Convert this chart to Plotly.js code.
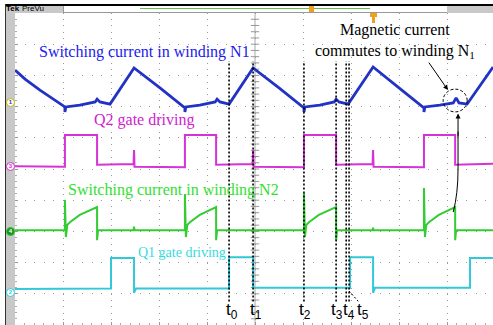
<!DOCTYPE html>
<html>
<head>
<meta charset="utf-8">
<script src="https://cdn.plot.ly/plotly-3.0.1.min.js"></script>
<style>
  html, body { margin:0; padding:0; background:#fff; }
  #wrap { position:relative; width:493px; height:325px; overflow:hidden; background:#fff; }
  #plot { position:absolute; left:0; top:0; width:493px; height:325px; }
  .ov { position:absolute; }
  .chm { position:absolute; width:7px; height:7px; border-radius:50%; font:bold 6px "Liberation Sans", sans-serif; line-height:7px; text-align:center; }
</style>
</head>
<body>
<div id="wrap">
  <div id="plot"></div>
  <!-- scope frame -->
  <div class="ov" style="left:5px;top:4px;width:488px;height:2px;background:#000;"></div>
  <div class="ov" style="left:5px;top:4px;width:1px;height:321px;background:#333;"></div>
  <div class="ov" style="left:6px;top:6px;width:9px;height:319px;background:#c8c8c8;"></div>
  <div class="ov" style="left:6px;top:6px;width:57px;height:7px;background:#c8c8c8;"></div>
  <div class="ov" style="left:63px;top:6px;width:383px;height:6px;background:#fff;border:1px solid #999;border-top:none;"></div>
  <div class="ov" style="left:447px;top:6px;width:46px;height:7px;background:#c8c8c8;"></div>
  <div class="ov" style="left:140px;top:8px;width:230px;height:1px;background:#66bb55;"></div>
  <div class="ov" style="left:6px;top:5px;font:bold 8px 'Liberation Sans',sans-serif;color:#000;line-height:8px;">Tek</div>
  <div class="ov" style="left:22px;top:5px;font:8px 'Liberation Sans',sans-serif;color:#000;line-height:8px;">PreVu</div>
  <div class="ov" style="left:309px;top:6px;width:5px;height:6px;background:#f0a020;"></div>
  <div class="ov" style="left:370px;top:13px;width:7px;height:4px;background:#f0a020;"></div>
  <div class="ov" style="left:372px;top:17px;width:3px;height:6px;background:#f0a020;"></div>
  <!-- channel markers -->
  <div class="chm" style="left:6px;top:98px;background:#fff;border:1px solid #c8b400;color:#2233cc;">1</div>
  <div class="chm" style="left:6px;top:162px;background:#fff;border:1px solid #d030d0;color:#d030d0;">3</div>
  <div class="chm" style="left:6px;top:227px;background:#1f8f1f;border:1px solid #2c2;color:#fff;">4</div>
  <div class="chm" style="left:6px;top:288px;background:#fff;border:1px solid #33ccdd;color:#33ccdd;">2</div>
</div>
<script>
// Time in screen divisions, amplitude in screen divisions (0 = bottom graticule line)
const blueT = [0, 0.21, 0.52, 0.83, 1.04, 1.04, 1.06, 1.35, 1.67, 1.71, 1.77, 1.98, 2.48, 3.02, 3.54, 3.54, 3.56, 3.85, 4.17, 4.21, 4.27, 4.46, 4.96, 5.50, 6.02, 6.02, 6.04, 6.35, 6.65, 6.69, 6.75, 6.94, 7.46, 8.00, 8.52, 8.52, 8.54, 8.85, 9.13, 9.19, 9.25, 9.42, 9.96];
const blueV = [8.17, 7.88, 7.53, 7.21, 6.99, 6.83, 6.99, 7.05, 7.15, 7.24, 7.15, 7.08, 8.24, 7.60, 6.96, 6.83, 6.99, 7.05, 7.15, 7.24, 7.15, 7.08, 8.24, 7.60, 6.96, 6.83, 6.99, 7.05, 7.15, 7.24, 7.15, 7.08, 8.27, 7.60, 6.96, 6.83, 6.99, 7.05, 7.12, 7.28, 7.12, 7.08, 8.27];

const q2T = [0, 1.04, 1.04, 1.71, 1.71, 2.47, 2.48, 2.49, 3.54, 3.54, 4.19, 4.19, 4.95, 4.96, 4.97, 6.02, 6.02, 6.69, 6.69, 7.45, 7.46, 7.47, 8.52, 8.52, 9.17, 9.17, 9.96];
const q2V = [5.09, 5.07, 6.09, 6.09, 5.14, 5.16, 5.61, 5.07, 5.06, 6.09, 6.09, 5.14, 5.16, 5.61, 5.07, 5.06, 6.09, 6.09, 5.14, 5.16, 5.61, 5.07, 5.06, 6.09, 6.09, 5.14, 5.17];

const n2T = [0, 1.04, 1.04, 1.06, 1.09, 1.15, 1.35, 1.71, 1.71, 1.73, 2.47, 2.48, 2.49, 3.54, 3.54, 3.56, 3.59, 3.65, 3.85, 4.19, 4.19, 4.21, 4.95, 4.96, 4.97, 6.02, 6.02, 6.04, 6.07, 6.13, 6.33, 6.69, 6.69, 6.71, 7.45, 7.46, 7.47, 8.52, 8.52, 8.54, 8.57, 8.63, 8.83, 9.17, 9.17, 9.19, 9.96];
const n2V = [3.04, 3.04, 4.01, 2.82, 3.21, 3.30, 3.53, 3.78, 2.72, 3.04, 3.04, 3.15, 3.04, 3.04, 4.20, 2.82, 3.21, 3.30, 3.53, 3.78, 2.72, 3.04, 3.04, 3.12, 3.04, 3.04, 4.23, 2.82, 3.21, 3.30, 3.53, 3.78, 2.72, 3.04, 3.04, 3.12, 3.04, 3.04, 4.39, 2.82, 3.21, 3.30, 3.53, 3.78, 2.72, 3.04, 3.04];

const q1T = [0, 2.00, 2.00, 2.48, 2.48, 2.52, 4.46, 4.46, 4.96, 4.96, 6.98, 6.98, 7.46, 7.46, 7.50, 9.48, 9.48, 9.96];
const q1V = [1.15, 1.17, 2.15, 2.15, 1.03, 1.17, 1.17, 2.17, 2.17, 1.19, 1.19, 2.17, 2.17, 1.03, 1.19, 1.19, 2.15, 2.15];

const tMarks = [4.46, 4.96, 6.02, 6.69, 6.90, 6.96];
const tLabels = ['t<sub>0</sub>', 't<sub>1</sub>', 't<sub>2</sub>', 't<sub>3</sub>', 't<sub>4</sub>', 't<sub>5</sub>'];
const tLabelX = [4.52, 5.02, 6.04, 6.71, 6.95, 7.25];

const colBlue = '#2233c4', colMag = '#d633d6', colGreen = '#33cc33', colCyan = '#33c8d8';

const traces = [
  {x: blueT, y: blueV, mode: 'lines', line: {color: colBlue, width: 2.8}},
  {x: q2T, y: q2V, mode: 'lines', line: {color: colMag, width: 2}},
  {x: n2T, y: n2V, mode: 'lines', line: {color: colGreen, width: 2}},
  {x: q1T, y: q1V, mode: 'lines', line: {color: colCyan, width: 2}}
];

// center graticule ticks (decoration)
const cx = [], cy = [];
for (let i = 1; i < 50; i++) { cx.push(5); cy.push(i * 0.2); }
traces.unshift({x: cx, y: cy, mode: 'markers', marker: {symbol: 'line-ew', size: 6, line: {color: '#999', width: 1}}, hoverinfo: 'skip'});

const shapes = [
  {type: 'line', xref: 'x', yref: 'y', x0: 5, x1: 5, y0: 0, y1: 10, line: {color: '#aaa', width: 1}, layer: 'below'}
];
tMarks.forEach(t => shapes.push({type: 'line', xref: 'x', yref: 'y', x0: t, x1: t, y0: 0.75, y1: 8.45, line: {color: '#000', width: 1.6, dash: '2px,2px'}}));
shapes.push({type: 'line', xref: 'x', yref: 'y', x0: 6.96, x1: 7.15, y0: 1.09, y1: 0.76, line: {color: '#000', width: 1, dash: '2px,2px'}});
shapes.push({type: 'circle', xref: 'x', yref: 'y', x0: 8.92, x1: 9.42, y0: 6.83, y1: 7.56, line: {color: '#000', width: 1, dash: '3px,2px'}});
shapes.push({type: 'path', xref: 'x', yref: 'y', path: 'M 9.13,3.62 Q 9.23,4.2 9.23,5.0 L 9.23,6.2', line: {color: '#000', width: 1}});

const serif = 'Liberation Serif, Times New Roman, serif';
const annotations = [
  {x: 2.69, y: 8.75, xref: 'x', yref: 'y', text: 'Switching current in winding N1', showarrow: false, font: {family: serif, size: 16, color: '#1a1aee'}},
  {x: 7.92, y: 9.10, xref: 'x', yref: 'y', text: 'Magnetic current<br>commutes to winding N<sub>1</sub>', showarrow: false, align: 'center', font: {family: serif, size: 16, color: '#000'}},
  {x: 2.68, y: 6.57, xref: 'x', yref: 'y', text: 'Q2 gate driving', showarrow: false, font: {family: serif, size: 16, color: '#d020d0'}},
  {x: 3.31, y: 4.33, xref: 'x', yref: 'y', text: 'Switching current in winding N2', showarrow: false, font: {family: serif, size: 16, color: '#33e033'}},
  {x: 3.48, y: 2.31, xref: 'x', yref: 'y', text: 'Q1 gate driving', showarrow: false, font: {family: serif, size: 14, color: '#33dddd'}},
  {x: 9.02, y: 7.53, ax: 8.60, ay: 8.46, xref: 'x', yref: 'y', axref: 'x', ayref: 'y', text: '', showarrow: true, arrowhead: 2, arrowsize: 1, arrowwidth: 1, arrowcolor: '#000', standoff: 0},
  {x: 9.23, y: 6.78, ax: 9.23, ay: 6.0, xref: 'x', yref: 'y', axref: 'x', ayref: 'y', text: '', showarrow: true, arrowhead: 2, arrowsize: 1, arrowwidth: 1, arrowcolor: '#000', standoff: 0}
];
tLabels.forEach((lab, i) => annotations.push({x: tLabelX[i], y: 0.45, xref: 'x', yref: 'y', text: lab, showarrow: false, font: {family: 'Liberation Sans, Arial, sans-serif', size: 17, color: '#000'}}));

const layout = {
  width: 493, height: 325,
  margin: {l: 15, r: 0, t: 13, b: 0, pad: 0},
  paper_bgcolor: 'rgba(0,0,0,0)', plot_bgcolor: '#fff',
  showlegend: false,
  xaxis: {range: [0, 478 / 48], tick0: 0, dtick: 1, showgrid: true, gridcolor: '#9a9a9a', gridwidth: 1, griddash: '1px,5.24px',
          zeroline: false, showticklabels: false, showline: true, linecolor: '#777', mirror: true,
          ticks: 'inside', ticklen: 3, tickcolor: '#999', minor: {dtick: 0.2, ticks: 'inside', ticklen: 2, tickcolor: '#aaa'}},
  yaxis: {range: [0, 10], tick0: 0, dtick: 1, showgrid: true, gridcolor: '#9a9a9a', gridwidth: 1, griddash: '1px,8.6px',
          zeroline: false, showticklabels: false, showline: true, linecolor: '#555', mirror: true,
          ticks: 'inside', ticklen: 3, tickcolor: '#999', minor: {dtick: 0.2, ticks: 'inside', ticklen: 2, tickcolor: '#aaa'}},
  shapes: shapes,
  annotations: annotations
};

Plotly.newPlot('plot', traces, layout, {staticPlot: true, displayModeBar: false});
</script>
</body>
</html>
